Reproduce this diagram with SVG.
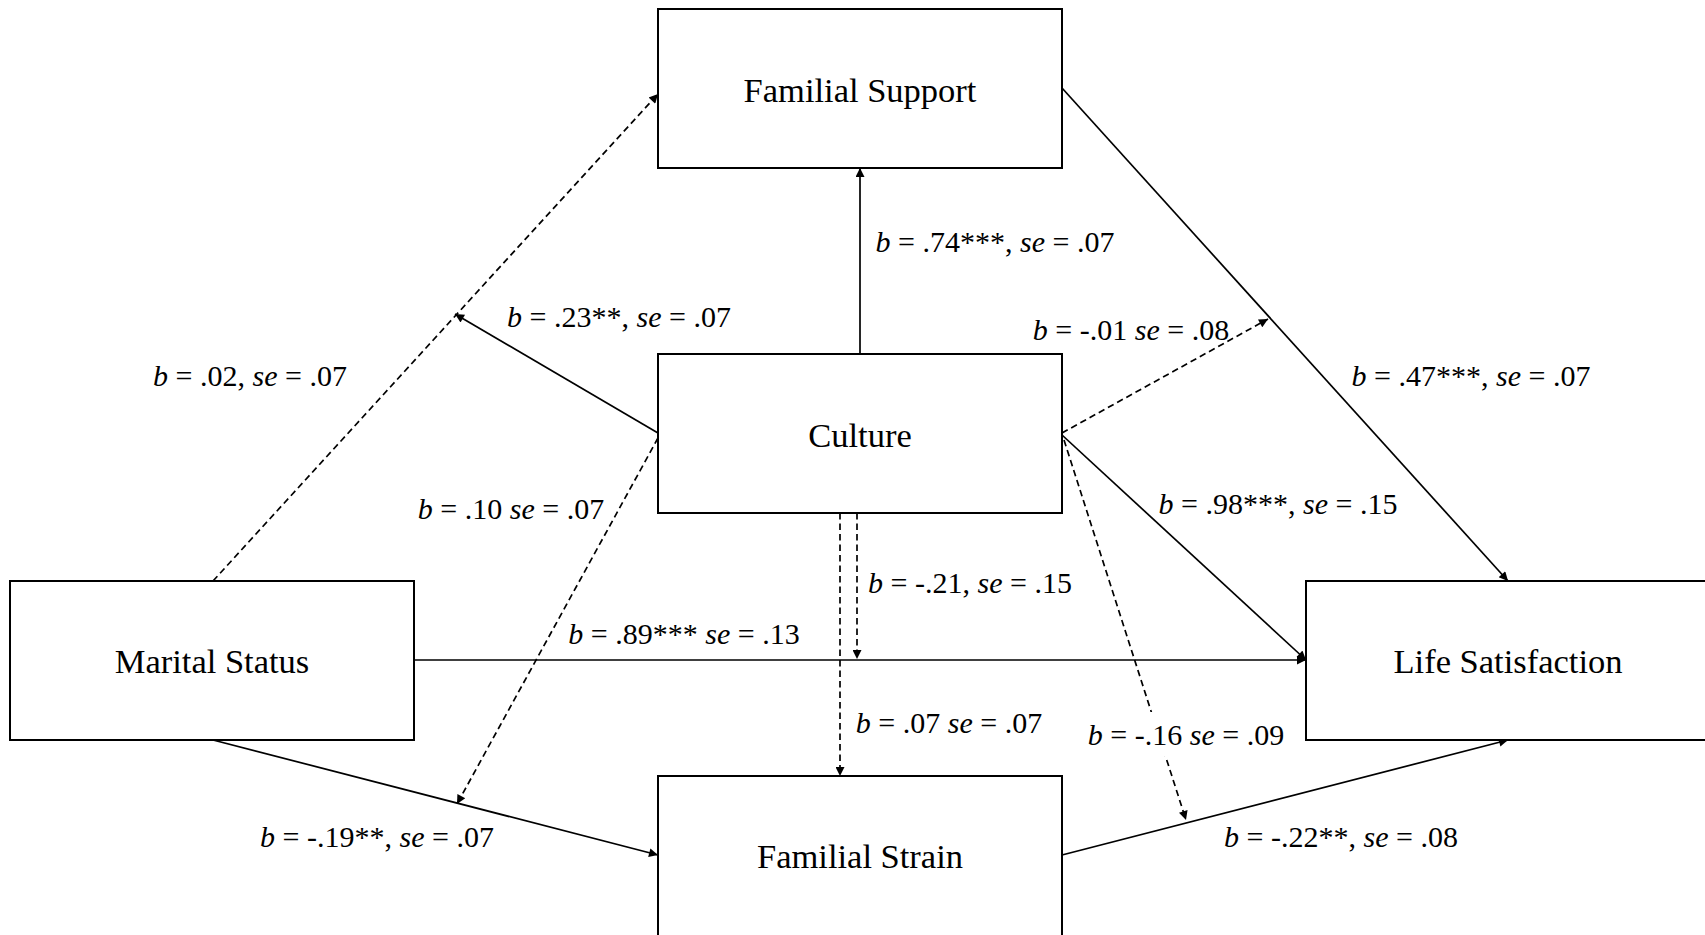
<svg xmlns="http://www.w3.org/2000/svg" width="1705" height="935" viewBox="0 0 1705 935">
<style>
.box{fill:#fff;stroke:#000;stroke-width:2}
.node{font-family:"Liberation Serif","Times New Roman",serif;font-size:34.5px;fill:#000;text-anchor:middle}
.lbl{font-family:"Liberation Serif","Times New Roman",serif;font-size:30px;fill:#000;text-anchor:middle}
.solid{stroke:#000;stroke-width:1.7;fill:none;marker-end:url(#ah)}
.dash{stroke:#000;stroke-width:1.7;fill:none;stroke-dasharray:6.5 4;marker-end:url(#ah)}
</style>
<defs>
<marker id="ah" viewBox="0 0 10 10" refX="10" refY="5" markerWidth="11" markerHeight="9" markerUnits="userSpaceOnUse" orient="auto">
<path d="M0,0 L10,5 L0,10 z" fill="#000"/>
</marker>
</defs>
<rect width="1705" height="935" fill="#fff"/>
<g id="connectors">
<line class="dash" x1="213" y1="581" x2="658" y2="94"/>
<line class="solid" x1="658" y1="433" x2="455" y2="314"/>
<line class="solid" x1="860" y1="354" x2="860" y2="168"/>
<line class="dash" x1="1062" y1="433" x2="1268" y2="319"/>
<line class="solid" x1="1062" y1="88" x2="1508" y2="581"/>
<line class="solid" x1="1062" y1="435" x2="1306" y2="660"/>
<line class="solid" x1="414" y1="660" x2="1306" y2="660"/>
<line class="dash" x1="857" y1="513" x2="857" y2="659"/>
<line class="dash" x1="840" y1="513" x2="840" y2="776"/>
<line class="dash" x1="658" y1="438" x2="457" y2="804"/>
<line class="solid" x1="213" y1="740" x2="658" y2="855"/>
<line class="dash" x1="1064" y1="440" x2="1186" y2="820"/>
<line class="solid" x1="1062" y1="855" x2="1508" y2="740"/>
</g>
<g id="node-familial-support">
<rect class="box" x="658" y="9" width="404" height="159"/>
<text class="node" x="860" y="102">Familial Support</text>
</g>
<g id="node-culture">
<rect class="box" x="658" y="354" width="404" height="159"/>
<text class="node" x="860" y="447">Culture</text>
</g>
<g id="node-marital-status">
<rect class="box" x="10" y="581" width="404" height="159"/>
<text class="node" x="212" y="673">Marital Status</text>
</g>
<g id="node-life-satisfaction">
<rect class="box" x="1306" y="581" width="410" height="159"/>
<text class="node" x="1508" y="673">Life Satisfaction</text>
</g>
<g id="node-familial-strain">
<rect class="box" x="658" y="776" width="404" height="170"/>
<text class="node" x="860" y="868">Familial Strain</text>
</g>
<g id="labels">
<text class="lbl" x="250" y="386"><tspan font-style="italic">b</tspan> = .02, <tspan font-style="italic">se</tspan> = .07</text>
<text class="lbl" x="619" y="327"><tspan font-style="italic">b</tspan> = .23**, <tspan font-style="italic">se</tspan> = .07</text>
<text class="lbl" x="995" y="252"><tspan font-style="italic">b</tspan> = .74***, <tspan font-style="italic">se</tspan> = .07</text>
<text class="lbl" x="1131" y="340"><tspan font-style="italic">b</tspan> = -.01 <tspan font-style="italic">se</tspan> = .08</text>
<text class="lbl" x="1471" y="386"><tspan font-style="italic">b</tspan> = .47***, <tspan font-style="italic">se</tspan> = .07</text>
<text class="lbl" x="511" y="519"><tspan font-style="italic">b</tspan> = .10 <tspan font-style="italic">se</tspan> = .07</text>
<text class="lbl" x="684" y="644"><tspan font-style="italic">b</tspan> = .89*** <tspan font-style="italic">se</tspan> = .13</text>
<text class="lbl" x="970" y="593"><tspan font-style="italic">b</tspan> = -.21, <tspan font-style="italic">se</tspan> = .15</text>
<text class="lbl" x="1278" y="514"><tspan font-style="italic">b</tspan> = .98***, <tspan font-style="italic">se</tspan> = .15</text>
<text class="lbl" x="949" y="733"><tspan font-style="italic">b</tspan> = .07 <tspan font-style="italic">se</tspan> = .07</text>
<rect x="1085" y="712" width="204" height="44" fill="#fff"/>
<text class="lbl" x="1186" y="745"><tspan font-style="italic">b</tspan> = -.16 <tspan font-style="italic">se</tspan> = .09</text>
<text class="lbl" x="377" y="847"><tspan font-style="italic">b</tspan> = -.19**, <tspan font-style="italic">se</tspan> = .07</text>
<text class="lbl" x="1341" y="847"><tspan font-style="italic">b</tspan> = -.22**, <tspan font-style="italic">se</tspan> = .08</text>
</g>
</svg>
